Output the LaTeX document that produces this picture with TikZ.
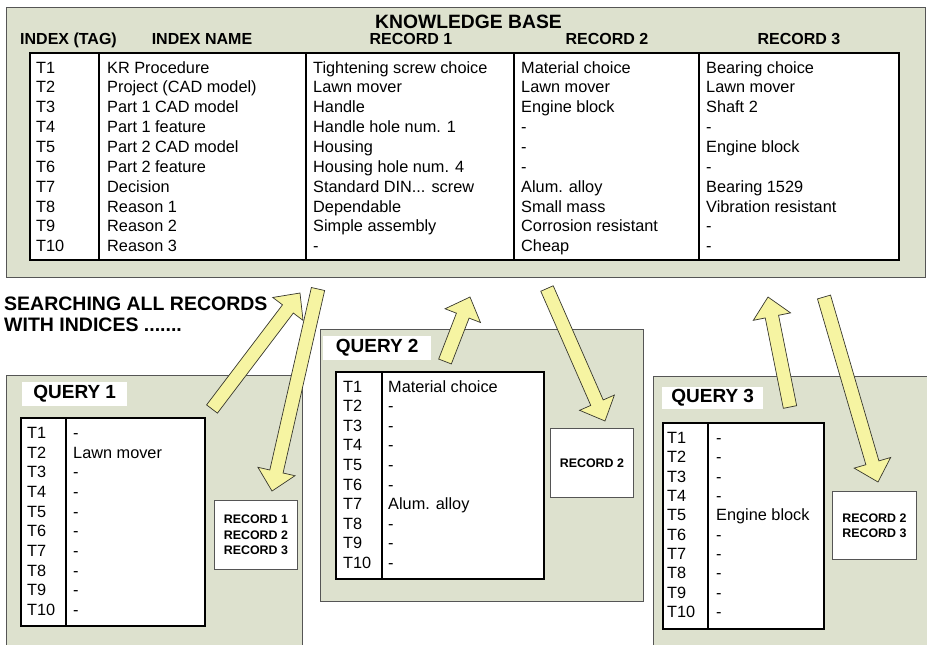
\documentclass[tikz,border=0pt]{standalone}
\usepackage{fontspec}
\setmainfont{Liberation Sans}
\usetikzlibrary{calc}

\definecolor{panelfill}{RGB}{221,225,206}
\definecolor{panelline}{RGB}{85,85,85}
\definecolor{arrowfill}{RGB}{246,244,162}
\definecolor{arrowline}{RGB}{55,55,45}

\tikzset{
  panel/.style={fill=panelfill, draw=panelline, line width=0.9pt, anchor=north west, inner sep=0pt},
  grid/.style={fill=white, draw=black, line width=1.6pt, anchor=north west, inner sep=0pt},
  sepline/.style={draw=black, line width=1.6pt},
  cell/.style={anchor=base west, inner sep=0pt, font=\fontsize{16.3}{19.6}\selectfont},
  head/.style={anchor=base, inner sep=0pt, font=\bfseries\fontsize{16}{19}\selectfont},
  kbtitle/.style={anchor=base, inner sep=0pt, font=\bfseries\fontsize{19.3}{22}\selectfont},
  qlabel/.style={fill=white, anchor=north west, inner sep=0pt, font=\bfseries\fontsize{19}{22}\selectfont},
  hitbox/.style={fill=white, draw=panelline, line width=0.8pt, anchor=north west, inner sep=0pt,
    align=center, font=\bfseries\fontsize{12.4}{15.2}\selectfont},
  fat/.style={fill=arrowfill, draw=arrowline, line width=0.7pt, line join=miter},
}

% one column of table entries: name prefix, x, first baseline, row step, entries
\newcommand{\fillcolumn}[5]{%
  \foreach \entry [count=\k from 0] in {#5}
    \node[cell] (#1-\k) at (#2, #3+#4*\k) {\entry};
}

% broad block arrow from a tail coordinate to a tip coordinate
\newcommand{\fatarrow}[2]{%
  \coordinate (#1-neck) at ($(#2)!20pt!(#1)$);
  \draw[fat] ($(#1)!6.8pt!90:(#2)$) -- ($(#1-neck)!6.8pt!90:(#2)$)
    -- ($(#1-neck)!19pt!90:(#2)$) -- (#2) -- ($(#1-neck)!19pt!-90:(#2)$)
    -- ($(#1-neck)!6.8pt!-90:(#2)$) -- ($(#1)!6.8pt!-90:(#2)$) -- cycle;
}

\begin{document}
\begin{tikzpicture}[x=1pt, y=-1pt]
\path[use as bounding box, clip] (0,0) rectangle (927,645);

% ---------------- knowledge base ----------------
\node[panel, minimum width=919pt, minimum height=270pt] (kb) at (6,7) {};
\node[kbtitle] (kbhead) at (468.5,28.5) {KNOWLEDGE BASE};
\node[head] (hdtag)  at (68.5,44) {INDEX (TAG)};
\node[head] (hdname) at (202,44) {INDEX NAME};
\node[head] (hdr1)   at (411,44) {RECORD 1};
\node[head] (hdr2)   at (607,44) {RECORD 2};
\node[head] (hdr3)   at (799,44) {RECORD 3};

\node[grid, minimum width=869pt, minimum height=207pt] (kbtab) at (29,52) {};
\foreach \x in {99,306,514,699} \draw[sepline] (\x,52) -- (\x,259);

\fillcolumn{kbtag}{36}{73}{19.86}{T1,T2,T3,T4,T5,T6,T7,T8,T9,T10}
\fillcolumn{kbname}{107}{73}{19.86}{KR Procedure,Project (CAD model),Part 1 CAD model,Part 1 feature,Part 2 CAD model,Part 2 feature,Decision,Reason 1,Reason 2,Reason 3}
\fillcolumn{kbrecA}{313}{73}{19.86}{Tightening screw choice,Lawn mover,Handle,Handle hole num. 1,Housing,Housing hole num. 4,{Standard DIN.{}.{}. screw},Dependable,Simple assembly,-}
\fillcolumn{kbrecB}{521}{73}{19.86}{Material choice,Lawn mover,Engine block,-,-,-,Alum. alloy,Small mass,Corrosion resistant,Cheap}
\fillcolumn{kbrecC}{706}{73}{19.86}{Bearing choice,Lawn mover,Shaft 2,-,Engine block,-,Bearing 1529,Vibration resistant,-,-}

\node[anchor=north west, inner sep=0pt, align=left, font=\bfseries\fontsize{19.5}{21}\selectfont] (search) at (4,297) {SEARCHING ALL RECORDS\\WITH INDICES .......};

% ---------------- query 1 ----------------
\node[panel, minimum width=296pt, minimum height=295pt] (q1) at (6,375) {};
\node[qlabel, minimum width=105pt, minimum height=24pt] (q1lab) at (22,382) {QUERY 1};
\node[grid, minimum width=184pt, minimum height=208pt] (q1tab) at (20,417) {};
\draw[sepline] (66,417) -- (66,625);
\fillcolumn{q1tag}{27}{438.3}{19.7}{T1,T2,T3,T4,T5,T6,T7,T8,T9,T10}
\fillcolumn{q1val}{73}{438.3}{19.7}{-,Lawn mover,-,-,-,-,-,-,-,-}
\node[hitbox, minimum width=83pt, minimum height=69pt] (q1hit) at (214,500) {RECORD 1\\RECORD 2\\RECORD 3};

% ---------------- query 2 ----------------
\node[panel, minimum width=323pt, minimum height=272pt] (q2) at (320,329) {};
\node[qlabel, minimum width=108pt, minimum height=24pt] (q2lab) at (323,336) {QUERY 2};
\node[grid, minimum width=208pt, minimum height=207pt] (q2tab) at (335,371) {};
\draw[sepline] (382,371) -- (382,578);
\fillcolumn{q2tag}{343}{392.3}{19.56}{T1,T2,T3,T4,T5,T6,T7,T8,T9,T10}
\fillcolumn{q2val}{388}{392.3}{19.56}{Material choice,-,-,-,-,-,Alum. alloy,-,-,-}
\node[hitbox, minimum width=83pt, minimum height=69pt] (q2hit) at (550,428) {RECORD 2};

% ---------------- query 3 ----------------
\node[panel, minimum width=287pt, minimum height=294pt] (q3) at (653,376) {};
\node[qlabel, minimum width=101pt, minimum height=22pt] (q3lab) at (662,387) {QUERY 3};
\node[grid, minimum width=161pt, minimum height=206pt] (q3tab) at (662,422) {};
\draw[sepline] (708,422) -- (708,628);
\fillcolumn{q3tag}{667}{443.3}{19.38}{T1,T2,T3,T4,T5,T6,T7,T8,T9,T10}
\fillcolumn{q3val}{716}{443.3}{19.38}{-,-,-,-,Engine block,-,-,-,-,-}
\node[hitbox, minimum width=84pt, minimum height=68pt] (q3hit) at (832,491) {RECORD 2\\RECORD 3};

% ---------------- search arrows ----------------
\coordinate (a1s) at (212,409);   \coordinate (a1e) at (300,293);
\coordinate (a2s) at (318,289);   \coordinate (a2e) at (272,491);
\coordinate (a3s) at (445,361.5); \coordinate (a3e) at (470,297);
\coordinate (a4s) at (547,288.5); \coordinate (a4e) at (605,421);
\coordinate (a5s) at (790,407);   \coordinate (a5e) at (768,297);
\coordinate (a6s) at (824,297);   \coordinate (a6e) at (878,482);
\fatarrow{a1s}{a1e}
\fatarrow{a2s}{a2e}
\fatarrow{a3s}{a3e}
\fatarrow{a4s}{a4e}
\fatarrow{a5s}{a5e}
\fatarrow{a6s}{a6e}
\end{tikzpicture}
\end{document}
